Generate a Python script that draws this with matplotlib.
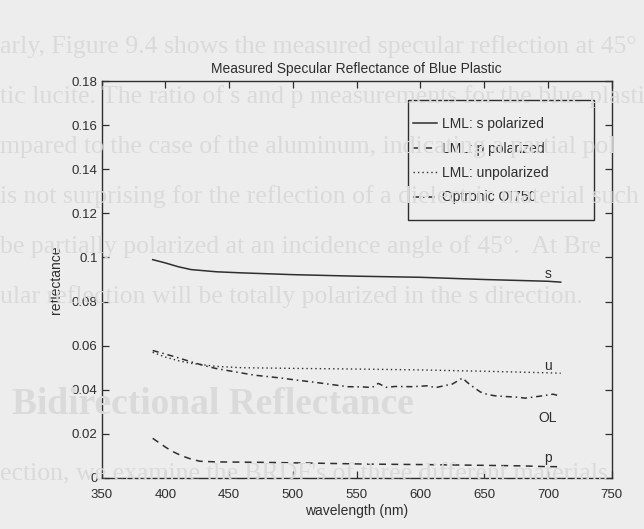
import numpy as np
import matplotlib
matplotlib.use("Agg")
import matplotlib.pyplot as plt
from matplotlib.patches import Rectangle

plt.rcParams['font.family'] = ['Liberation Sans', 'DejaVu Sans']

# ---- data ----
wl_s = [390, 400, 410, 420, 440, 460, 500, 550, 600, 650, 700, 710]
refl_s = [0.0990, 0.0975, 0.0958, 0.0945, 0.0935, 0.0930, 0.0922, 0.0915, 0.0910, 0.0900, 0.0892, 0.0888]

wl_p = [390, 395, 400, 405, 410, 415, 420, 427, 440, 475, 520, 558, 600, 642, 680, 696, 710]
refl_p = [0.0180, 0.0160, 0.0140, 0.0122, 0.0108, 0.0096, 0.0086, 0.0076, 0.0073, 0.0071, 0.0067, 0.0063, 0.0061, 0.0058, 0.0055, 0.0052, 0.0051]

wl_u = [390, 400, 410, 420, 440, 460, 500, 550, 600, 650, 700, 710]
refl_u = [0.0570, 0.0548, 0.0532, 0.0520, 0.0506, 0.0500, 0.0497, 0.0494, 0.0490, 0.0484, 0.0477, 0.0475]

wl_ol = [390, 400, 410, 420, 430, 440, 450, 460, 470, 480, 491, 500, 517, 530, 543, 555, 562, 567, 573,
         580, 594, 605, 612, 620, 625, 633, 637, 642, 647, 652, 658, 665, 671, 677, 682, 690, 696, 704, 710]
refl_ol = [0.0578, 0.0562, 0.0545, 0.0527, 0.0510, 0.0496, 0.0486, 0.0476, 0.0466, 0.0460, 0.0453, 0.0446, 0.0434,
           0.0424, 0.0414, 0.0413, 0.0410, 0.0429, 0.0411, 0.0415, 0.0414, 0.0418, 0.0410, 0.0420, 0.0426, 0.0453,
           0.0432, 0.0410, 0.0390, 0.0380, 0.0373, 0.0370, 0.0368, 0.0366, 0.0362, 0.0368, 0.0373, 0.0380, 0.0371]

curve_tags = ['s', 'u', 'OL', 'p']
tag_y = [0.0927, 0.0510, 0.0274, 0.0090]

xticks = [350, 400, 450, 500, 550, 600, 650, 700, 750]
yticks = [0, 0.02, 0.04, 0.06, 0.08, 0.1, 0.12, 0.14, 0.16, 0.18]

paper = '#ededed'
ink = '#2e2e2e'
ghost = '#dadada'

fig = plt.figure(figsize=(6.44, 5.29), dpi=100, facecolor=paper)

# bleed-through text from the other side of the scanned page
ghost_lines = [
    (47, "arly, Figure 9.4 shows the measured specular reflection at 45°"),
    (97, "tic lucite. The ratio of s and p measurements for the blue plastic"),
    (147, "mpared to the case of the aluminum, indicating a partial pol"),
    (197, "is not surprising for the reflection of a dielectric material such"),
    (247, "be partially polarized at an incidence angle of 45°.  At Bre"),
    (297, "ular reflection will be totally polarized in the s direction."),
    (474, "ection, we examine the BRDF's of three different materials"),
]
for ypx, txt in ghost_lines:
    fig.text(0.0, 1 - ypx / 529, txt, family=['Liberation Serif', 'DejaVu Serif'],
             fontsize=18.5, color=ghost, va='center', ha='left', zorder=0)
fig.text(12 / 644, 1 - 405 / 529, "Bidirectional Reflectance", family=['Liberation Serif', 'DejaVu Serif'],
         fontsize=27, weight='bold', color=ghost, va='center', ha='left', zorder=0)

ax = fig.add_axes([101.7 / 644, 1 - 478 / 529, 510 / 644, 397 / 529])
ax.set_facecolor('none')

ax.plot(wl_s, refl_s, '-', color=ink, lw=1.1, label='LML: s polarized')
ax.plot(wl_p, refl_p, '--', color=ink, lw=1.1, dashes=(4.5, 3.5), label='LML: p polarized')
ax.plot(wl_u, refl_u, ':', color=ink, lw=1.0, dashes=(1, 2.2), label='LML: unpolarized')
ax.plot(wl_ol, refl_ol, '-.', color=ink, lw=1.1, dashes=(4, 2.5, 1, 2.5), label='Optronic OI750')

for tag, yv in zip(curve_tags, tag_y):
    ax.text(700, yv, tag, ha='center', va='center', fontsize=10, color=ink)

ax.set_xlim(350, 750)
ax.set_ylim(0, 0.18)
ax.set_xticks(xticks)
ax.set_yticks(yticks)
ax.set_yticklabels(['%g' % v for v in yticks])
ax.tick_params(direction='in', top=True, right=True, length=5, width=0.9,
               labelsize=9.5, colors=ink, pad=3)
ax.tick_params(axis='x', pad=8)
for sp in ax.spines.values():
    sp.set_color(ink)
    sp.set_linewidth(1.0)

ax.set_title('Measured Specular Reflectance of Blue Plastic', fontsize=10, color=ink, pad=6)
ax.set_xlabel('wavelength (nm)', fontsize=10, color=ink, labelpad=2)
ax.set_ylabel('reflectance', fontsize=10, color=ink, labelpad=6)

leg = ax.legend(loc='upper left', bbox_to_anchor=(0.610, 0.909), frameon=False,
                borderpad=0, borderaxespad=0, handlelength=1.73, handletextpad=0.35,
                labelspacing=0.75, fontsize=10)
for t in leg.get_texts():
    t.set_color(ink)
ax.add_patch(Rectangle((0.6, 0.65), 0.366, 0.302, transform=ax.transAxes,
                       fill=False, edgecolor=ink, lw=1.0))

fig.savefig('out.png', dpi=100, facecolor=paper)
